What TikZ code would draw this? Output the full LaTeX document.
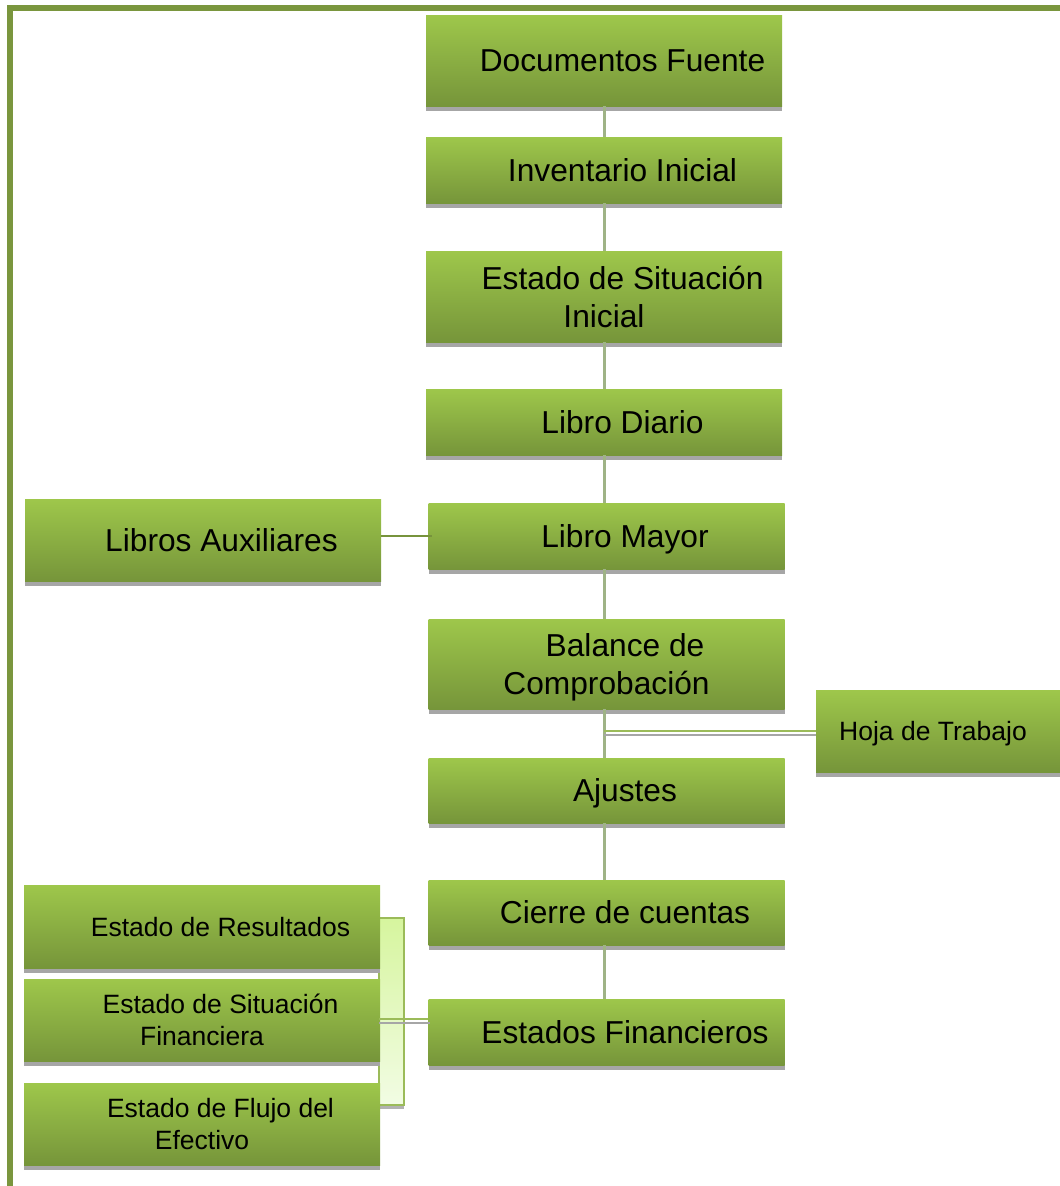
\documentclass[tikz,border=0pt]{standalone}
\usepackage{fontspec}
\setmainfont{Liberation Sans}
\usetikzlibrary{shadows,calc}
\definecolor{gTop}{HTML}{9EC74B}
\definecolor{gMid}{HTML}{8DB143}
\definecolor{gBot}{HTML}{76953A}
\definecolor{frameC}{HTML}{7A963E}
\definecolor{trunkC}{HTML}{9FB386}
\definecolor{linkG}{HTML}{9BBB59}
\definecolor{linkD}{HTML}{77933C}
\definecolor{brTop}{HTML}{D6F59E}
\definecolor{brBot}{HTML}{F2FCE4}
\tikzset{
  box/.style={draw=none, top color=gTop, middle color=gMid, bottom color=gBot,
    inner sep=0pt, align=center, minimum width=356pt, text depth=0pt,
    drop shadow={shadow xshift=0pt, shadow yshift=-4.5pt, fill=black!35, opacity=1},
    font=\fontsize{31.7}{38}\selectfont},
  smallbox/.style={box, font=\fontsize{26.5}{32}\selectfont},
  trunk/.style={draw=trunkC, line width=3pt},
}
\begin{document}
\begin{tikzpicture}[x=1pt,y=-1pt]
\useasboundingbox (0,0) rectangle (1060,1186);
% frame
\draw[frameC, line width=6pt] (10,1186) -- (10,8) -- (1060,8);
% central column
\node[box, minimum height=91pt] (DF) at (604,60.5) {\hspace*{37pt}Documentos Fuente};
\node[box, minimum height=66pt] (II) at (604,170) {\hspace*{37pt}Inventario Inicial};
\node[box, minimum height=91pt] (ESI) at (604,296.5) {\hspace*{37pt}Estado de Situación\\Inicial};
\node[box, minimum height=66pt] (LD) at (604,422) {\hspace*{37pt}Libro Diario};
\node[box, minimum height=66pt] (LM) at (606.5,536) {\hspace*{37pt}Libro Mayor};
\node[box, minimum height=90pt] (BC) at (606.5,664) {\hspace*{37pt}Balance de\\Comprobación};
\node[box, minimum height=65pt] (AJ) at (606.5,790.5) {\hspace*{37pt}Ajustes};
\node[box, minimum height=65pt] (CC) at (606.5,912.5) {\hspace*{37pt}Cierre de cuentas};
\node[box, minimum height=66pt] (EF) at (606.5,1032) {\hspace*{37pt}Estados Financieros};
% side boxes
\node[box, minimum height=82pt] (LA) at (203,540) {\hspace*{37pt}Libros Auxiliares};
\node[smallbox, minimum width=244pt, minimum height=82pt] (HT) at (938,731) {\hspace*{-10pt}Hoja de Trabajo};
% bracket
\node[draw=linkG, line width=1.5pt, top color=brTop, bottom color=brBot,
  minimum width=25pt, minimum height=187pt, inner sep=0pt,
  drop shadow={shadow xshift=0pt, shadow yshift=-4pt, fill=black!30, opacity=1}] (BR) at (391.5,1011.5) {};
\node[smallbox, minimum height=83pt] (ER) at (202,926.5) {\hspace*{37pt}Estado de Resultados};
\node[smallbox, minimum height=82pt] (ESF) at (202,1020) {\hspace*{37pt}Estado de Situación\\Financiera};
\node[smallbox, minimum height=82pt] (EFE) at (202,1124) {\hspace*{37pt}Estado de Flujo del\\Efectivo};
% trunk connectors
\draw[trunk] (DF.south) -- (DF.south |- II.north);
\draw[trunk] (II.south) -- (II.south |- ESI.north);
\draw[trunk] (ESI.south) -- (ESI.south |- LD.north);
\draw[trunk] (LD.south) -- (LD.south |- LM.north);
\draw[trunk] (LD.south |- LM.south) -- (LD.south |- BC.north);
\draw[trunk] (LD.south |- BC.south) -- (LD.south |- AJ.north);
\draw[trunk] (LD.south |- AJ.south) -- (LD.south |- CC.north);
\draw[trunk] (LD.south |- CC.south) -- (LD.south |- EF.north);
% Hoja de Trabajo link
\coordinate (hm) at ($(LD.south |- BC.south)!0.5!(LD.south |- AJ.north)$);
\draw[linkG, line width=1.6pt] ($(hm)+(0,-2.5)$) -- ($(hm -| HT.west)+(0,-2.5)$);
\draw[black!35, line width=1.6pt] ($(hm)+(0,1.5)$) -- ($(hm -| HT.west)+(0,1.5)$);
% Libros Auxiliares link
\draw[linkD, line width=2.6pt] (LA.east |- LM.west) -- ($(LM.west)+(4,0)$);
% bracket link
\coordinate (bm) at (BR.west |- EF.west);
\draw[linkG, line width=1.6pt] ($(bm)+(1,-13)$) -- ($(bm -| EF.west)+(0,-13)$);
\draw[black!35, line width=1.6pt] ($(bm)+(1,-9)$) -- ($(bm -| EF.west)+(2,-9)$);
\end{tikzpicture}
\end{document}
